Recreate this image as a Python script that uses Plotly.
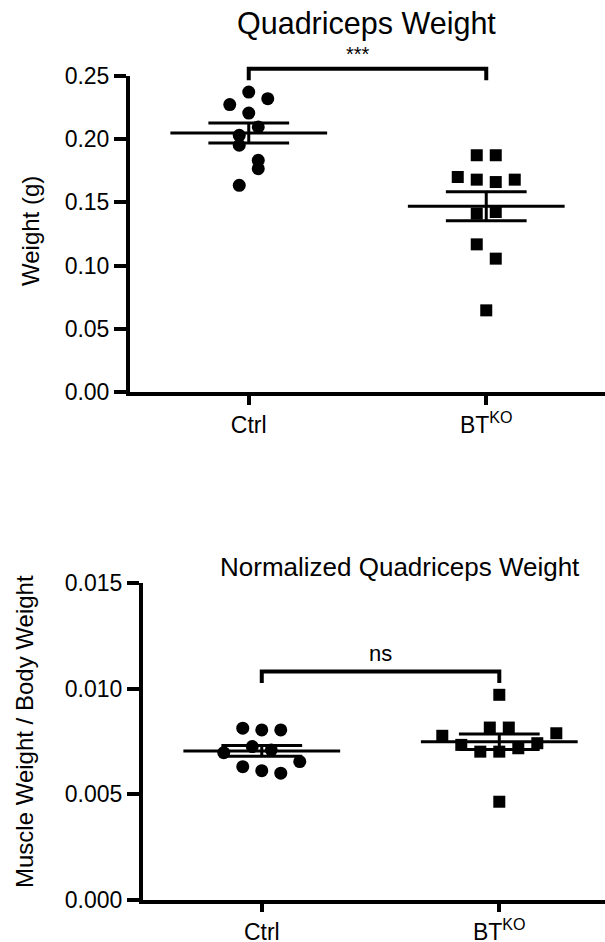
import numpy as np
import plotly.graph_objects as go

# ---------------- data ----------------
categories = ["Ctrl", "BT<sup>KO</sup>"]

top_ctrl = [0.2373, 0.2321, 0.2274, 0.2207, 0.2097, 0.2031, 0.1952, 0.1833, 0.1767, 0.1635]
top_bt = [0.1873, 0.1873, 0.1701, 0.1680, 0.1661, 0.1680, 0.1411, 0.1424, 0.1168, 0.1055, 0.0646]

bot_ctrl = [0.00813, 0.00805, 0.00805, 0.00726, 0.00710, 0.00697, 0.00631, 0.00612, 0.00600, 0.00655]
bot_bt = [0.00971, 0.00777, 0.00816, 0.00816, 0.00789, 0.00734, 0.00702, 0.00702, 0.00718, 0.00742, 0.00465]

# horizontal scatter offsets (category units)
top_ctrl_jit = [0, 0.08, -0.08, 0, 0.04, -0.04, -0.04, 0.04, 0.04, -0.04]
top_bt_jit = [-0.04, 0.04, -0.12, -0.04, 0.04, 0.12, -0.04, 0.04, -0.04, 0.04, 0]
bot_ctrl_jit = [-0.08, 0, 0.08, -0.04, 0.04, -0.16, -0.08, 0, 0.08, 0.16]
bot_bt_jit = [0, -0.24, -0.04, 0.04, 0.24, -0.16, -0.08, 0, 0.08, 0.16, 0]

top_ticks = [0.0, 0.05, 0.10, 0.15, 0.20, 0.25]
bot_ticks = [0.0, 0.005, 0.010, 0.015]

top_sig = "***"
bot_sig = "ns"
top_bracket = (0.2558, 0.2466)
bot_bracket = (0.01081, 0.01027)

FONT = "Liberation Sans, Arial, Helvetica, sans-serif"
W, H = 605, 942

fig = go.Figure()


def add_group(xa, ya, center, vals, jit, symbol, size):
    vals = np.asarray(vals)
    xs = center + np.asarray(jit)
    fig.add_trace(go.Scatter(x=xs, y=vals, mode="markers", xaxis=xa, yaxis=ya,
                             marker=dict(symbol=symbol, size=size, color="black",
                                         line=dict(width=0)),
                             showlegend=False, hoverinfo="y"))
    m = vals.mean()
    sem = vals.std(ddof=1) / np.sqrt(len(vals))
    lw = 3
    # mean line
    fig.add_trace(go.Scatter(x=[center - 0.33, center + 0.33], y=[m, m], mode="lines",
                             xaxis=xa, yaxis=ya, line=dict(color="black", width=lw),
                             showlegend=False, hoverinfo="skip"))
    # SEM caps and stem
    for v in (m - sem, m + sem):
        fig.add_trace(go.Scatter(x=[center - 0.17, center + 0.17], y=[v, v], mode="lines",
                                 xaxis=xa, yaxis=ya, line=dict(color="black", width=lw),
                                 showlegend=False, hoverinfo="skip"))
    fig.add_trace(go.Scatter(x=[center, center], y=[m - sem, m + sem], mode="lines",
                             xaxis=xa, yaxis=ya, line=dict(color="black", width=lw),
                             showlegend=False, hoverinfo="skip"))


add_group("x", "y", 0, top_ctrl, top_ctrl_jit, "circle", 13)
add_group("x", "y", 1, top_bt, top_bt_jit, "square", 12)
add_group("x2", "y2", 0, bot_ctrl, bot_ctrl_jit, "circle", 13)
add_group("x2", "y2", 1, bot_bt, bot_bt_jit, "square", 12)

axis_common = dict(showline=True, linecolor="black", linewidth=4, ticks="outside",
                   tickwidth=4, tickcolor="black", showgrid=False, zeroline=False,
                   tickfont=dict(family=FONT, size=23, color="black"), mirror=False,
                   automargin=False)

top_ymax = top_ticks[-1]
bot_ymax = bot_ticks[-1]

fig.update_layout(
    width=W, height=H, paper_bgcolor="white", plot_bgcolor="white",
    margin=dict(l=0, r=0, t=0, b=0, pad=0, autoexpand=False), showlegend=False,
    xaxis=dict(domain=[130 / W, 1], range=[-0.5, 1.5], tickvals=[0, 1], ticktext=categories,
               ticklen=9, anchor="y", **axis_common),
    yaxis=dict(domain=[1 - 392 / H, 1 - 76 / H], range=[0, top_ymax], tickvals=top_ticks,
               tickformat=".2f", ticklen=12, anchor="x", **axis_common),
    xaxis2=dict(domain=[143 / W, 1], range=[-0.5, 1.445], tickvals=[0, 1], ticktext=categories,
                ticklen=8, anchor="y2", **axis_common),
    yaxis2=dict(domain=[1 - 900 / H, 1 - 583 / H], range=[0, bot_ymax], tickvals=bot_ticks,
                tickformat=".3f", ticklen=12, anchor="x2", **axis_common),
)

# significance brackets
ytop, yleg = top_bracket
fig.add_shape(type="path", xref="x", yref="y domain",
              path=f"M 0 {yleg / top_ymax} L 0 {ytop / top_ymax} L 1 {ytop / top_ymax} L 1 {yleg / top_ymax}",
              line=dict(color="black", width=4))
ytop2, yleg2 = bot_bracket
fig.add_shape(type="path", xref="x2", yref="y2",
              path=f"M 0 {yleg2} L 0 {ytop2} L 1 {ytop2} L 1 {yleg2}",
              line=dict(color="black", width=4))

fig.add_annotation(x=0.46, y=ytop / top_ymax, xref="x", yref="y domain", text=top_sig,
                   showarrow=False, xanchor="center", yanchor="bottom", yshift=2,
                   font=dict(family=FONT, size=20, color="black"))
fig.add_annotation(x=0.5, y=ytop2, xref="x2", yref="y2", text=bot_sig,
                   showarrow=False, xanchor="center", yanchor="bottom", yshift=4,
                   font=dict(family=FONT, size=22, color="black"))

# titles
fig.add_annotation(x=366 / W, y=1 - 24 / H, xref="paper", yref="paper", text="Quadriceps Weight",
                   showarrow=False, xanchor="center", yanchor="middle",
                   font=dict(family=FONT, size=30.5, color="black"))
fig.add_annotation(x=400 / W, y=1 - 567 / H, xref="paper", yref="paper",
                   text="Normalized Quadriceps Weight",
                   showarrow=False, xanchor="center", yanchor="middle",
                   font=dict(family=FONT, size=26, color="black"))
# y-axis titles
fig.add_annotation(x=30 / W, y=1 - 231 / H, xref="paper", yref="paper", text="Weight (g)",
                   textangle=-90, showarrow=False, xanchor="center", yanchor="middle",
                   font=dict(family=FONT, size=24, color="black"))
fig.add_annotation(x=24 / W, y=1 - 732 / H, xref="paper", yref="paper",
                   text="Muscle Weight / Body Weight",
                   textangle=-90, showarrow=False, xanchor="center", yanchor="middle",
                   font=dict(family=FONT, size=24, color="black"))

fig.write_html("out.html", config={"displayModeBar": False},
               post_script="document.body.style.margin='0px';document.body.style.overflow='hidden';")
